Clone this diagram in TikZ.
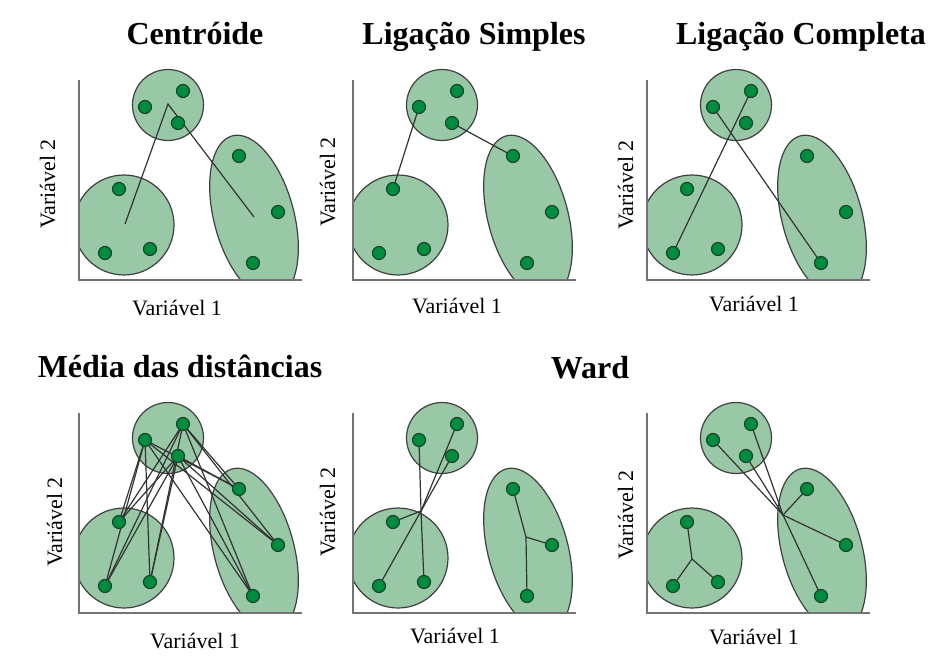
\documentclass[tikz,border=0pt]{standalone}
\usepackage{fontspec}
\setmainfont{Liberation Serif}

\definecolor{clusterfill}{RGB}{152,200,166}
\definecolor{dotfill}{RGB}{0,140,62}
\definecolor{dotline}{RGB}{25,70,40}

\pgfdeclarelayer{front}
\pgfsetlayers{main,front}

\begin{document}
\begin{tikzpicture}[x=1pt, y=1pt,
    cluster/.style={draw=black!75, fill=clusterfill, line width=1.2pt},
    dot/.style={circle, draw=dotline, fill=dotfill, line width=1.2pt,
                minimum size=13pt, inner sep=0pt},
    link/.style={draw=black!80, line width=1.2pt},
    axisline/.style={draw=black!55, line width=1.5pt},
    title/.style={font=\fontsize{32}{38}\selectfont\bfseries, anchor=base},
    xlabel/.style={font=\fontsize{22}{26}\selectfont, anchor=base},
    ylabel/.style={xlabel, rotate=90},
]
\useasboundingbox (0,0) rectangle (942,657);

% six panels with the same three clusters
\foreach \ox/\oy/\pn in {79/377/c, 353/377/s, 647/377/k, 79/44/m, 353/44/w, 647/44/v} {
  \begin{scope}[shift={(\ox,\oy)}, name prefix=\pn-]
    \begin{scope}
      \clip (0,0) rectangle (240,215);
      \draw[cluster] (89,175) circle[radius=35.5];
      \draw[cluster] (45,55) circle[radius=50];
      \draw[cluster, rotate around={15:(175,63)}] (175,63) ellipse[x radius=40, y radius=84];
    \end{scope}
    \draw[axisline] (0,200) -- (0,0) -- (223,0);
    \begin{pgfonlayer}{front}
      \node[dot] (t1) at (66,173) {};
      \node[dot] (t2) at (104,189) {};
      \node[dot] (t3) at (99,157) {};
      \node[dot] (b1) at (40,91) {};
      \node[dot] (b2) at (26,27) {};
      \node[dot] (b3) at (71,31) {};
      \node[dot] (e1) at (160,124) {};
      \node[dot] (e2) at (199,68) {};
      \node[dot] (e3) at (174,17) {};
    \end{pgfonlayer}
  \end{scope}
}

% Centroide
\begin{scope}[shift={(79,377)}, name prefix=c-]
  \coordinate (ct) at (89,176);
  \coordinate (cb) at (46,56);
  \coordinate (ce) at (175,63);
  \draw[link] (cb) -- (ct) -- (ce);
\end{scope}

% Ligacao simples / completa
\draw[link] (s-t1.center) -- (s-b1.center);
\draw[link] (s-t3.center) -- (s-e1.center);
\draw[link] (k-t2.center) -- (k-b2.center);
\draw[link] (k-t1.center) -- (k-e3.center);

% Media das distancias
\foreach \i in {1,2,3}
  \foreach \j in {b1,b2,b3,e1,e2,e3}
    \draw[link] (m-t\i.center) -- (m-\j.center);

% Ward
\begin{scope}[shift={(353,44)}, name prefix=w-]
  \coordinate (jt) at (68,102);
  \coordinate (je) at (173,76);
  \foreach \j in {t1,t2,t3,b1,b2,b3} \draw[link] (jt) -- (\j.center);
  \draw[link] (e1.center) -- (je) -- (e3.center);
  \draw[link] (je) -- (e2.center);
\end{scope}
\begin{scope}[shift={(647,44)}, name prefix=v-]
  \coordinate (jt) at (136,98);
  \coordinate (jb) at (45,54);
  \foreach \j in {t1,t2,t3,e1,e2,e3} \draw[link] (jt) -- (\j.center);
  \foreach \j in {b1,b2,b3} \draw[link] (jb) -- (\j.center);
\end{scope}

% titles
\node[title] (tcent) at (195,612) {Centróide};
\node[title] (tsimp) at (474,612) {Ligação Simples};
\node[title] (tcomp) at (801,612) {Ligação Completa};
\node[title] (tmed)  at (180,280) {Média das distâncias};
\node[title] (tward) at (590,279) {Ward};

% axis labels
\node[xlabel] (xc) at (177,342) {Variável 1};
\node[xlabel] (xs) at (457,344) {Variável 1};
\node[xlabel] (xk) at (754,346) {Variável 1};
\node[xlabel] (xm) at (195,9) {Variável 1};
\node[xlabel] (xw) at (455,14) {Variável 1};
\node[xlabel] (xv) at (754,13) {Variável 1};
\node[ylabel] (yc) at (55,473) {Variável 2};
\node[ylabel] (ys) at (335,475) {Variável 2};
\node[ylabel] (yk) at (633,472) {Variável 2};
\node[ylabel] (ym) at (62,135) {Variável 2};
\node[ylabel] (yw) at (335,145) {Variável 2};
\node[ylabel] (yv) at (633,142) {Variável 2};
\end{tikzpicture}
\end{document}
